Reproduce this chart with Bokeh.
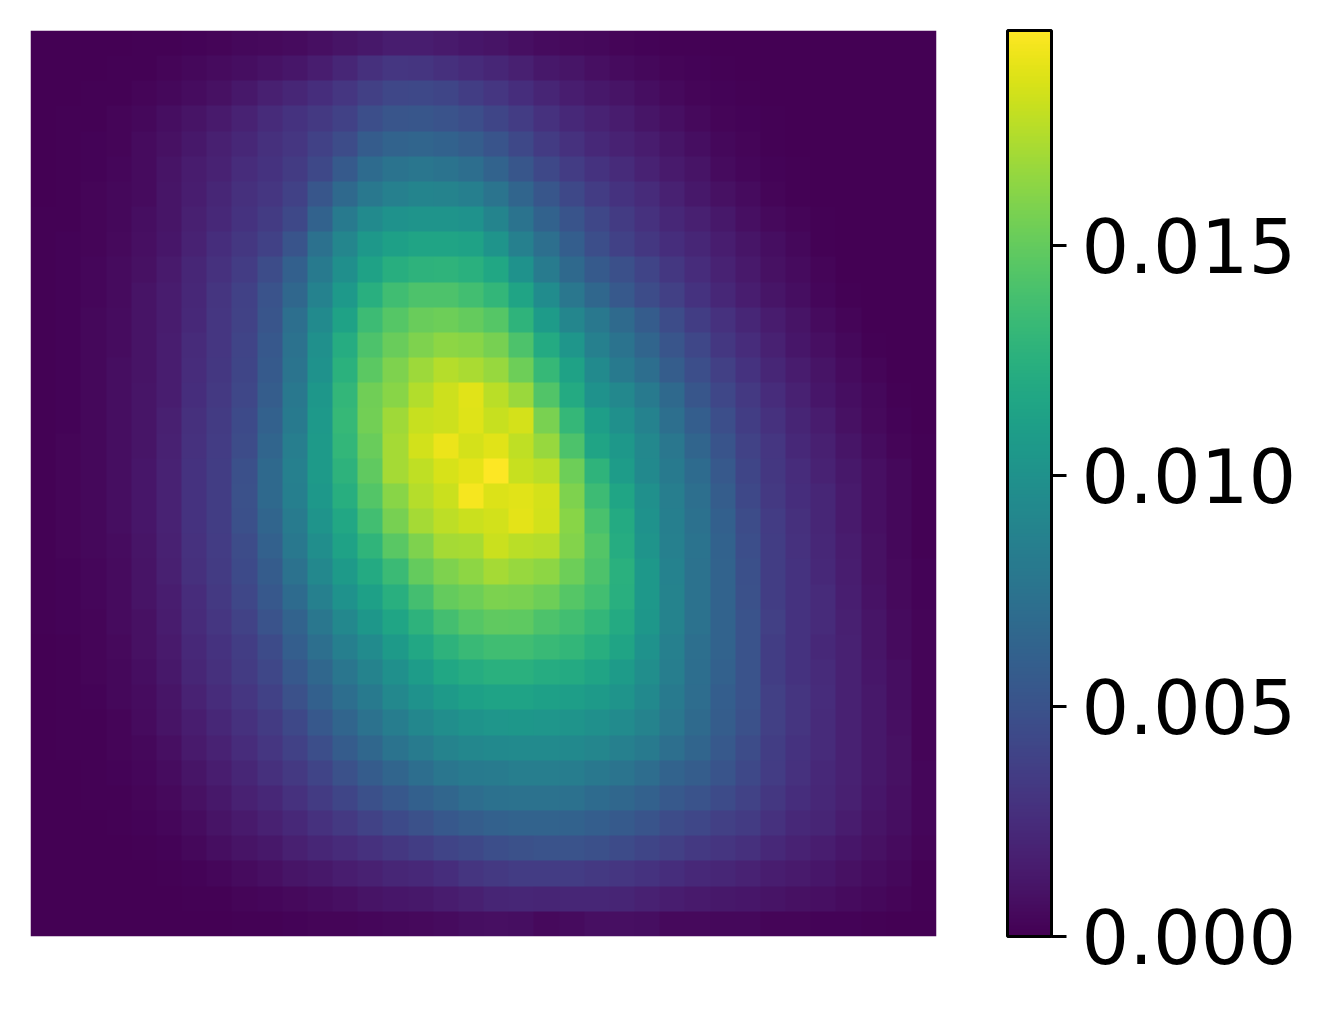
import numpy as np
from bokeh.plotting import figure
from bokeh.models import LinearColorMapper, ColorBar, FixedTicker, NumeralTickFormatter
from bokeh.palettes import Viridis256
from bokeh.embed import file_html
from bokeh.resources import INLINE

# density values, in units of 0.001, top row first
rows = [
[0,0,0,.05,.1,.15,.2,.3,.4,.5,.6,.8,1,1.3,1.6,1.6,1.4,1.2,1,.8,.6,.5,.4,.3,.2,.1,.1,.05,0,0,0,0,0,0,0,0],
[0,.05,.05,.1,.15,.25,.4,.55,.75,.95,1.2,1.6,2.1,2.7,3.1,3,2.7,2.4,2.1,1.7,1.3,1.1,.8,.6,.4,.3,.2,.1,.05,0,0,0,0,0,0,0],
[0,.05,.1,.15,.25,.4,.65,.9,1.3,1.7,2.1,2.6,3.1,3.7,4.2,4.3,4.1,3.6,3.1,2.6,2,1.6,1.3,1,.7,.5,.3,.2,.1,.05,0,0,0,0,0,0],
[.05,.1,.15,.25,.4,.7,1,1.4,1.9,2.4,2.9,3.3,3.8,4.7,5.2,5.3,5,4.7,4.1,3.5,2.8,2.3,1.9,1.5,1.1,.8,.5,.3,.2,.1,.05,0,0,0,0,0],
[.05,.1,.2,.3,.55,.85,1.3,1.7,2.2,2.7,3.1,3.8,4.6,5.7,6.3,6.4,6.2,5.8,5.1,4.3,3.4,2.8,2.3,1.9,1.5,1.1,.7,.45,.25,.1,.05,0,0,0,0,0],
[.05,.1,.2,.35,.6,1,1.5,1.9,2.5,2.9,3.4,4.3,5.6,6.9,7.5,7.7,7.5,7.1,6.3,5.3,4.3,3.5,2.9,2.4,1.9,1.4,1,.6,.35,.2,.1,0,0,0,0,0],
[.05,.15,.25,.4,.6,1.1,1.6,2.1,2.7,3.1,3.8,5.3,6.7,7.9,8.6,8.9,8.8,8.5,7.6,6.4,5.3,4.3,3.5,2.9,2.4,1.8,1.3,.9,.55,.3,.15,.05,0,0,0,0],
[.1,.15,.3,.45,.7,1.1,1.7,2.3,2.9,3.4,4.3,6.2,8,9.4,10,10.2,10.2,10,8.9,7.5,6.2,5.1,4.2,3.4,2.8,2.2,1.7,1.3,.8,.5,.25,.1,0,0,0,0],
[.1,.2,.3,.5,.8,1.2,1.9,2.6,3.2,3.8,5.1,7.3,9,10.5,11.2,11.5,11.5,11.3,10.2,8.6,7.2,5.9,4.7,3.8,3.2,2.6,2.1,1.6,1.1,.7,.4,.15,.05,0,0,0],
[.1,.2,.35,.55,.9,1.4,2.1,2.8,3.5,4.6,6,8,9.8,11.3,12.3,12.7,12.8,12.5,11.7,10,8.2,6.7,5.6,4.8,4,3.2,2.5,1.9,1.35,.9,.55,.25,.05,0,0,0],
[.1,.2,.35,.6,1,1.5,2.2,3,3.8,5,6.6,8.7,10.6,12.4,13.6,14.2,14.2,13.7,13,11.5,9.6,7.8,6.6,5.5,4.6,3.7,2.9,2.2,1.6,1.1,.7,.35,.1,0,0,0],
[.1,.2,.4,.65,1,1.5,2.3,3.1,3.9,5.2,7.2,9.4,11.3,13.5,14.5,15.2,15.3,15,14.5,12.8,10.8,9,7.9,6.8,5.7,4.6,3.6,2.8,2.1,1.5,1,.6,.25,.05,0,0],
[.1,.2,.4,.65,1.05,1.6,2.4,3.1,4,5.4,7.4,9.9,12.2,14.2,15.2,15.9,16.3,16.2,15.6,14.2,12,10.3,8.6,7.5,6.4,5.2,4.2,3.2,2.5,1.8,1.2,.8,.4,.15,0,0],
[.1,.2,.4,.7,1.05,1.6,2.5,3.2,4.1,5.6,7.6,10,12.6,14.7,15.9,16.8,17.5,17.2,16.6,15.3,13.2,11.3,9.4,8.1,7.1,5.8,4.7,3.7,2.9,2.1,1.5,1,.55,.25,.05,0],
[.1,.2,.4,.7,1.1,1.6,2.6,3.3,4.2,5.8,7.9,10.4,13,15.4,16.2,17.4,18.2,18.8,17.6,16.7,14.3,12,10,9.2,8,6.7,5.3,4.2,3.3,2.5,1.8,1.2,.7,.4,.15,0],
[.1,.2,.4,.7,1.1,1.7,2.7,3.4,4.4,6.1,8.1,10.6,13.2,15.5,16.9,18,18.2,18.7,18,18.4,15.7,13.1,11,9.9,8.7,7.2,5.9,4.7,3.6,2.8,2,1.5,.9,.5,.2,.05],
[.1,.25,.4,.7,1.1,1.8,2.8,3.5,4.6,6.4,8.4,10.7,13,15.2,17,18.3,19.1,18.4,18.8,17.8,16.6,14.2,11.5,10.5,9.2,7.8,6.4,5.1,3.9,3.1,2.3,1.7,1.1,.65,.3,.1],
[.1,.25,.4,.7,1.2,1.9,2.9,3.6,4.8,6.7,8.6,10.7,12.7,14.9,17,17.8,18.5,18.9,19.6,18,17.6,15.3,12.8,10.9,9.3,8,6.9,5.5,4.1,3.2,2.5,1.9,1.3,.8,.45,.15],
[.1,.25,.4,.7,1.2,1.9,2.9,3.6,4.9,6.7,8.5,10.5,12.3,14.4,16.2,17.5,18.1,19.4,18.6,18.8,18.4,15.9,13.5,11.6,9.9,8.4,7.2,5.8,4.3,3.3,2.6,2.1,1.4,.8,.45,.15],
[.1,.25,.4,.7,1.2,1.9,2.9,3.6,4.8,6.4,8.2,10.2,11.8,13.7,15.6,17,17.7,18.1,18.3,18.9,18.3,16.2,14,12,10,8.5,7.3,6,4.6,3.5,2.7,2.1,1.45,.8,.4,.15],
[.1,.25,.4,.65,1.1,1.8,2.8,3.5,4.6,6.1,7.9,9.7,11.3,12.9,14.6,15.9,17,17.1,18.1,17.6,17.5,16,14.4,12.2,10.2,8.6,7.5,6.2,4.7,3.6,2.8,2.2,1.5,.85,.45,.15],
[.1,.2,.35,.6,1,1.7,2.7,3.4,4.4,5.7,7.4,9.2,10.7,12,13.4,15,15.9,16.3,17,16.6,16.3,15.3,14.2,12.5,10.5,8.7,7.4,6.3,4.8,3.6,2.9,2.3,1.6,.9,.5,.2],
[.1,.2,.35,.6,1,1.6,2.5,3.3,4.2,5.4,6.9,8.6,10,11.2,12.4,13.8,15,15.3,15.8,15.7,15.3,14.5,13.7,12.4,10.5,8.8,7.4,6.3,4.9,3.6,2.9,2.4,1.65,.95,.5,.2],
[.1,.2,.3,.55,.9,1.5,2.4,3.1,3.9,5,6.3,7.8,9.2,10.4,11.6,12.7,13.8,14.5,14.9,14.8,14.2,13.7,13,12,10.4,8.8,7.4,6.3,5,3.7,2.9,2.4,1.7,1.1,.55,.25],
[.05,.15,.3,.5,.85,1.4,2.3,2.9,3.6,4.5,5.9,7.2,8.5,9.5,10.7,11.8,12.7,13.3,13.6,13.6,13.3,13,12.3,11.5,10,8.6,7.2,6.3,5,3.6,2.9,2.3,1.8,1.1,.6,.25],
[.05,.15,.25,.45,.75,1.3,2.1,2.7,3.4,4.2,5.4,6.6,7.7,8.8,9.9,10.9,11.7,12.2,12.5,12.5,12.2,12,11.5,10.8,9.7,8.4,7.1,6.1,5,3.6,2.9,2.4,1.8,1.2,.7,.3],
[.05,.15,.2,.4,.65,1.1,1.9,2.5,3.1,3.8,4.9,6,7.1,8.1,9.2,10,10.7,11.2,11.4,11.4,11.2,11,10.7,10.2,9.3,8.1,7,5.9,5,3.7,3,2.5,1.8,1.3,.75,.3],
[.05,.1,.15,.3,.55,1,1.6,2.2,2.8,3.4,4.3,5.4,6.4,7.4,8.3,9.1,9.7,10.1,10.3,10.4,10.3,10.2,9.9,9.5,8.8,7.8,6.8,5.8,4.9,3.7,3,2.4,1.8,1.25,.8,.3],
[.05,.1,.15,.25,.45,.8,1.4,1.9,2.5,3.1,3.8,4.7,5.7,6.6,7.5,8.2,8.8,9.1,9.3,9.4,9.4,9.3,9,8.6,8,7.2,6.4,5.5,4.6,3.6,2.9,2.4,1.8,1.25,.85,.3],
[0,.05,.1,.2,.35,.65,1.15,1.6,2.1,2.7,3.3,4,4.9,5.7,6.4,7.1,7.7,8.1,8.2,8.4,8.4,8.3,7.9,7.6,7,6.3,5.8,5.1,4.3,3.5,2.8,2.3,1.8,1.25,.85,.35],
[0,.05,.1,.15,.25,.5,.9,1.3,1.8,2.2,2.8,3.4,4.1,4.8,5.4,6,6.5,7,7.3,7.4,7.4,7.3,6.9,6.6,6.1,5.5,5,4.5,3.9,3.2,2.6,2.2,1.7,1.2,.8,.35],
[0,0,.05,.1,.2,.35,.65,1,1.4,1.8,2.3,2.8,3.3,3.9,4.4,4.9,5.4,5.8,6.1,6.3,6.3,6.2,5.9,5.6,5.1,4.6,4.2,3.7,3.4,2.8,2.3,2,1.5,1.05,.7,.35],
[0,0,0,.05,.1,.2,.45,.7,1,1.3,1.7,2.1,2.4,2.8,3.2,3.6,4,4.3,4.7,4.9,5,5,4.8,4.5,4.1,3.7,3.3,3,2.7,2.3,1.9,1.6,1.2,.85,.55,.25],
[0,0,0,0,.05,.1,.2,.35,.55,.8,1.1,1.3,1.6,1.8,2.1,2.3,2.6,3,3.3,3.5,3.5,3.5,3.3,3.1,2.9,2.6,2.3,2.1,1.9,1.6,1.4,1.2,.9,.65,.4,.15],
[0,0,0,0,0,.05,.1,.15,.25,.35,.5,.65,.8,1,1.2,1.3,1.5,1.7,2,2.1,2,2.1,2.1,2,1.8,1.6,1.4,1.3,1.2,1,.9,.8,.6,.45,.3,.1],
[0,0,0,0,0,0,0,.05,.1,.15,.2,.25,.3,.35,.4,.5,.6,.7,.8,.7,.5,.6,.8,.8,.7,.5,.5,.4,.4,.3,.3,.2,.2,.1,.05,0],
]
tick_values = [0.0, 0.005, 0.010, 0.015]
value_max = 0.01967

data = np.array(rows)[::-1] * 0.001
n = data.shape[0]

mapper = LinearColorMapper(palette=Viridis256, low=0, high=value_max)

p = figure(width=1299, height=1002, output_backend="svg", toolbar_location=None,
           x_range=(0, n), y_range=(0, n), min_border_left=30, min_border_top=30,
           min_border_bottom=66, min_border_right=10,
           x_axis_location=None, y_axis_location=None)
p.grid.visible = False
p.outline_line_color = None
p.image(image=[data], x=0, y=0, dw=n, dh=n, color_mapper=mapper)

cb = ColorBar(color_mapper=mapper, width=44, height=906, padding=0, margin=0,
              location=(71, 0),
              ticker=FixedTicker(ticks=tick_values),
              formatter=NumeralTickFormatter(format="0.000"),
              major_label_text_font="DejaVu Sans",
              major_label_text_font_size="75px",
              major_label_text_color="black",
              label_standoff=15,
              major_tick_in=0, major_tick_out=15,
              major_tick_line_color="black", major_tick_line_width=3,
              minor_tick_line_color=None,
              bar_line_color="black", bar_line_width=3,
              border_line_color=None, background_fill_color=None)
p.add_layout(cb, "right")

open("out.html", "w").write(file_html(p, INLINE))
